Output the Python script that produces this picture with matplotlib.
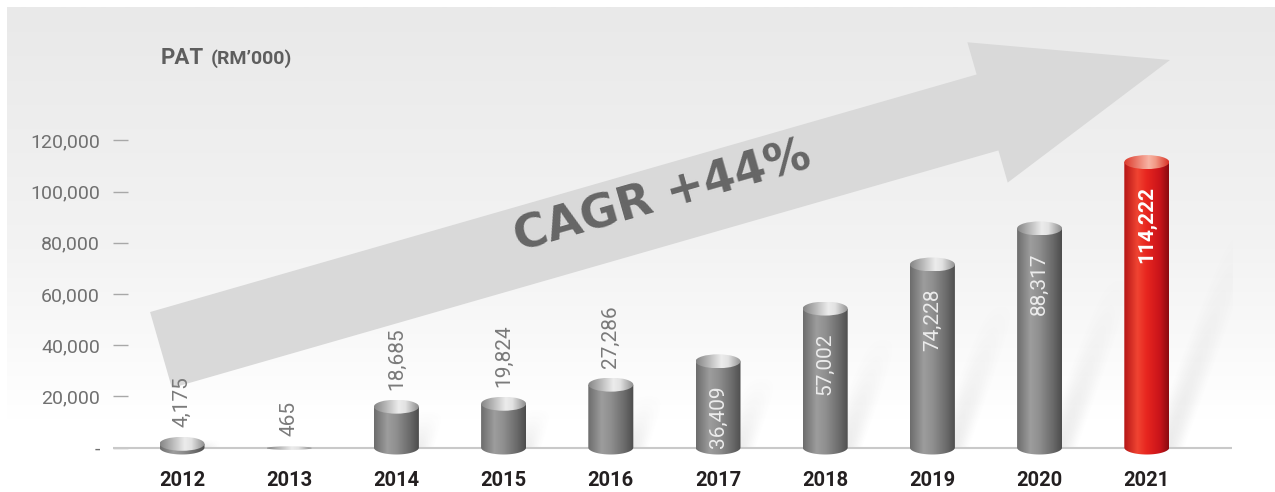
import numpy as np
import matplotlib
matplotlib.use("Agg")
import matplotlib.pyplot as plt
from matplotlib import font_manager
from matplotlib.patches import Polygon, Ellipse
from matplotlib.colors import LinearSegmentedColormap

# data
years = ["2012", "2013", "2014", "2015", "2016", "2017", "2018", "2019", "2020", "2021"]
pat = [4175, 465, 18685, 19824, 27286, 36409, 57002, 74228, 88317, 114222]
yticks = [0, 20000, 40000, 60000, 80000, 100000, 120000]
ytick_labels = ["-", "20,000", "40,000", "60,000", "80,000", "100,000", "120,000"]
highlight = "2021"
inside_from = 30000
title = "PAT"
unit = "(RM\u2019000)"
cagr = "CAGR +44%"

names = {f.name for f in font_manager.fontManager.ttflist}
if "Liberation Sans Narrow" in names:
    narrow, lab_fs, pat_fs = "Liberation Sans Narrow", 18, 19
else:
    narrow, lab_fs, pat_fs = "Roboto", 15, 16

W, H = 1275, 492
fig = plt.figure(figsize=(W / 100, H / 100), dpi=100)

# background layer in pixel coords
bg = fig.add_axes([0, 0, 1, 1])
bg_cm = LinearSegmentedColormap.from_list(
    "bg", [(0, "#e9e9e9"), (0.5, "#f3f3f3"), (0.85, "#ffffff"), (1, "#ffffff")])
bg.imshow(np.linspace(0, 1, 256).reshape(-1, 1), cmap=bg_cm, extent=(7, W, H, 7),
          aspect="auto", zorder=0)

# big growth arrow
S = np.array([161.0, 350.0])
T = np.array([1170.0, 60.0])
d = (T - S) / np.linalg.norm(T - S)
n = np.array([-d[1], d[0]])
hw, head_at, head_hw = 39.5, 860, 73
B = S + d * head_at
pts = [S - hw * n, B - hw * n, B - head_hw * n, T, B + head_hw * n, B + hw * n, S + hw * n]
bg.add_patch(Polygon(pts, closed=True, fc="#d9d9d9", ec="none", zorder=1))
bg.text(663, 197, cagr, rotation=16, rotation_mode="anchor", ha="center", va="center",
        fontsize=33, fontweight="bold", color="#666666", family="DejaVu Sans", zorder=2)

bg.text(161, 64, title, va="baseline", ha="left", family=narrow, fontsize=pat_fs,
        fontweight="bold", color="#5e5e5e")
bg.text(211, 64, unit, va="baseline", ha="left", family="Roboto", fontweight="bold",
        fontsize=14, color="#5e5e5e")
bg.set_xlim(0, W)
bg.set_ylim(H, 0)
bg.axis("off")

# main chart axes, placed to match the reference pixel grid
px_per = 51.2 / 20000
y0px = 447.5
ymin, ymax = -8000, 135000
bot_px = y0px - ymin * px_per
top_px = y0px - ymax * px_per
pitch, first = 107.2, 182
ax = fig.add_axes([113 / W, (H - bot_px) / H, (1232 - 113) / W, (bot_px - top_px) / H])
ax.patch.set_alpha(0)

grey_body = LinearSegmentedColormap.from_list(
    "gb", [(0, "#6c6c6c"), (0.3, "#9d9d9d"), (0.5, "#8f8f8f"), (0.8, "#6a6a6a"), (1, "#4c4c4c")])
grey_cap = LinearSegmentedColormap.from_list(
    "gc", [(0, "#858585"), (0.55, "#ececec"), (0.7, "#e2e2e2"), (1, "#8c8c8c")])
red_body = LinearSegmentedColormap.from_list(
    "rb", [(0, "#b51616"), (0.3, "#f04432"), (0.5, "#e8261f"), (0.8, "#c9141a"), (1, "#8a0b10")])
red_cap = LinearSegmentedColormap.from_list(
    "rc", [(0, "#dc3a2c"), (0.55, "#f8b4a4"), (0.7, "#f29a86"), (1, "#d93328")])

grad = np.linspace(0, 1, 256).reshape(1, -1)
bw = 45 / pitch
cap = 14 / px_per

for i, (yr, v) in enumerate(zip(years, pat)):
    red = yr == highlight
    body_cm, cap_cm = (red_body, red_cap) if red else (grey_body, grey_cap)
    h = min(cap, 3 * v)
    yc = v - h / 2
    x0, x1 = i - bw / 2, i + bw / 2

    # soft shadow leaning to the upper right
    sh = 0.8 * v
    sx = 0.36 * sh * px_per / pitch
    sl, sr = i, x1 + 0.35 * bw
    ex = (sl, sr + sx, 0, max(sh, 1))
    gx, gy = np.meshgrid(np.linspace(ex[0], ex[1], 96), np.linspace(0, 1, 128))
    left = sl + sx * gy
    tt = np.clip((gx - left) / (sr - sl), 0, 1)
    alpha = 0.12 * (1 - gy) ** 1.3 * np.sin(np.pi * tt) ** 1.5
    rgba = np.zeros((128, 96, 4))
    rgba[..., :3] = 0.35
    rgba[..., 3] = alpha
    ax.imshow(rgba, extent=ex, origin="lower", aspect="auto", zorder=1.5,
              interpolation="bilinear")

    if yc > 0:
        t = np.linspace(np.pi, 2 * np.pi, 40)
        ell = np.column_stack([i + bw / 2 * np.cos(t), h / 2 * np.sin(t)])
        verts = [(x0, yc)] + [tuple(p) for p in ell] + [(x1, yc)]
        body = Polygon(verts, closed=True, fc="none", ec="none")
        ax.add_patch(body)
        im = ax.imshow(grad, cmap=body_cm, extent=(x0, x1, -h / 2, yc), aspect="auto",
                       zorder=3, interpolation="bilinear")
        im.set_clip_path(body)

    e = Ellipse((i, yc), bw, h, fc="none", ec="none")
    ax.add_patch(e)
    im = ax.imshow(grad, cmap=cap_cm, extent=(x0, x1, yc - h / 2, yc + h / 2),
                   aspect="auto", zorder=4, interpolation="bilinear")
    im.set_clip_path(e)

    lab = f"{v:,}"
    if v > inside_from:
        ax.annotate(lab, (i, v), xytext=(0, -31), textcoords="offset pixels", rotation=90,
                    ha="center", va="top", family=narrow, fontsize=lab_fs,
                    color="white" if red else "#ececec",
                    fontweight="bold" if red else "normal", zorder=6)
    else:
        ax.annotate(lab, (i, v), xytext=(0, 10), textcoords="offset pixels", rotation=90,
                    ha="center", va="bottom", family=narrow, fontsize=lab_fs,
                    color="#7a7a7a", zorder=6)

ax.axhline(0, color="#c9c9c9", lw=1.5, zorder=2)
ax.set_xticks(range(len(years)), years)
ax.tick_params(axis="x", length=0, pad=2, labelsize=14.5, labelcolor="#231f20")
for t in ax.get_xticklabels():
    t.set_fontweight("bold")
    t.set_family("Roboto")
ax.set_yticks(yticks, ytick_labels)
ax.tick_params(axis="y", direction="in", length=10.8, width=1, color="#a8a8a8", pad=9.4,
               labelsize=14, labelcolor="#707070")
for t in ax.get_yticklabels():
    t.set_family("Roboto")
for s in ax.spines.values():
    s.set_visible(False)
ax.set_xlim((113 - first) / pitch, (1232 - first) / pitch)
ax.set_ylim(ymin, ymax)

fig.savefig("out.png", dpi=100)
